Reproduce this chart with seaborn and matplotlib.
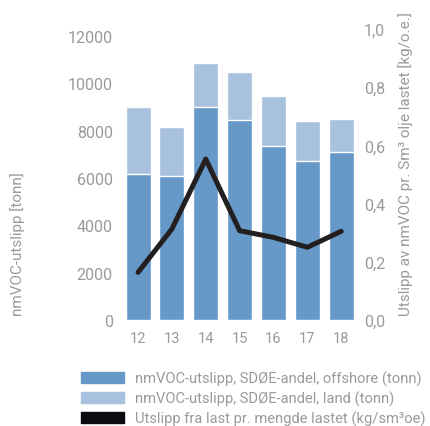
import numpy as np
import pandas as pd
import matplotlib
matplotlib.use("Agg")
import matplotlib.pyplot as plt
from matplotlib.patches import Patch
import seaborn as sns

# data
years = ["12", "13", "14", "15", "16", "17", "18"]
offshore = [6170, 6080, 9000, 8450, 7350, 6720, 7100]
land = [2830, 2070, 1860, 2030, 2110, 1680, 1390]
intensity = [0.164, 0.313, 0.553, 0.307, 0.284, 0.250, 0.305]

labels = [
    "nmVOC-utslipp, SDØE-andel, offshore (tonn)",
    "nmVOC-utslipp, SDØE-andel, land (tonn)",
    "Utslipp fra last pr. mengde lastet (kg/sm\u00b3oe)",
]

dark_blue = "#6699c8"
light_blue = "#a8c1df"
grey = "#9a9a9a"

sns.set_style("white")
plt.rcParams["font.family"] = ["Roboto", "DejaVu Sans"]

df = pd.DataFrame({"year": years, "offshore": offshore, "land": land})
df["total"] = df["offshore"] + df["land"]

fig = plt.figure(figsize=(4.31, 4.27), dpi=100)
ax = fig.add_axes([0.281, 0.248, 0.55, 0.682])

sns.barplot(data=df, x="year", y="total", color=light_blue, saturation=1,
            width=0.74, ax=ax)
sns.barplot(data=df, x="year", y="offshore", color=dark_blue, saturation=1,
            width=0.74, ax=ax)

ax.set_ylim(0, 12300)
ax.set_yticks(range(0, 12001, 2000))
ax.set_xlim(-0.5, len(years) - 0.5)
ax.set_xlabel("")
ax.set_ylabel("")
for s in ax.spines.values():
    s.set_visible(False)
ax.tick_params(axis="both", length=0, colors=grey, labelsize=11.5)
ax.tick_params(axis="x", pad=8, labelsize=10.5)
ax.tick_params(axis="y", pad=6)

ax2 = ax.twinx()
sns.lineplot(x=list(range(len(years))), y=intensity, color="#231f20",
             linewidth=3.6, ax=ax2)
ax2.set_ylim(0, 1.0)
ax2.set_yticks(np.arange(0, 1.01, 0.2))
ax2.set_yticklabels([f"{v:.1f}".replace(".", ",") for v in np.arange(0, 1.01, 0.2)])
for s in ax2.spines.values():
    s.set_visible(False)
ax2.tick_params(axis="y", length=0, colors=grey, labelsize=11.5, pad=4)
ax2.set_xlim(-0.5, len(years) - 0.5)

fig.text(0.04, 0.428, "nmVOC-utslipp [tonn]", rotation=90, color=grey,
         fontsize=11, ha="center", va="center")
fig.text(0.94, 0.615, "Utslipp av nmVOC pr. Sm\u00b3 olje lastet [kg/o.e.]",
         rotation=90, color=grey, fontsize=11, ha="center", va="center")

handles = [Patch(color=dark_blue), Patch(color=light_blue), Patch(color="#0a0a10")]
leg = fig.legend(handles, labels, loc="lower left", bbox_to_anchor=(0.165, -0.024),
                 frameon=False, fontsize=10.6, handlelength=2.9, handleheight=0.75,
                 labelspacing=0.32, handletextpad=0.75, borderaxespad=0.3)
for t in leg.get_texts():
    t.set_color(grey)

fig.savefig("out.png", dpi=100)
